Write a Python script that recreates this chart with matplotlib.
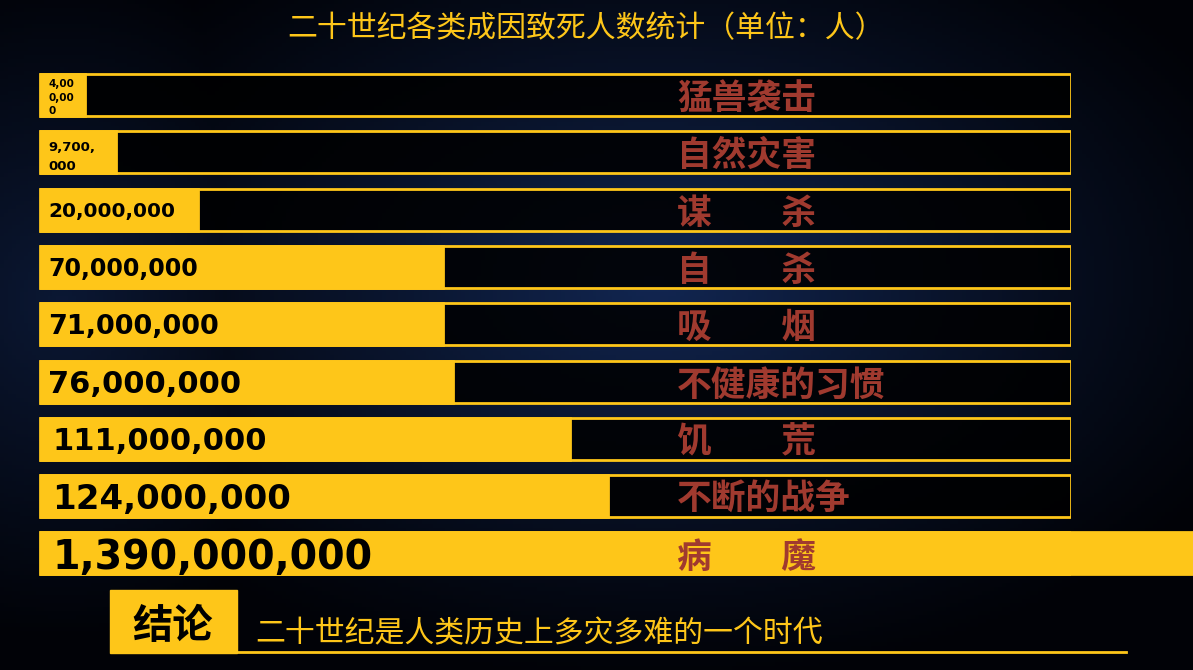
import matplotlib
matplotlib.use("Agg")
import matplotlib.pyplot as plt
import numpy as np
from matplotlib.patches import Rectangle
from matplotlib.lines import Line2D

plt.rcParams['font.family'] = ['Noto Sans CJK SC', 'DejaVu Sans']

causes = ['猛兽袭击', '自然灾害', '谋杀', '自杀', '吸烟', '不健康的习惯', '饥荒', '不断的战争', '病魔']
deaths = [4000000, 9700000, 20000000, 70000000, 71000000, 76000000, 111000000, 124000000, 1390000000]
# drawn bar length, percent of the outlined track (the picture is not to scale)
bar_len = [4.4, 7.4, 15.3, 39.1, 39.1, 40.1, 51.4, 55.1, 112]

title = '二十世纪各类成因致死人数统计（单位：人）'
conclusion_tag = '结论'
conclusion = '二十世纪是人类历史上多灾多难的一个时代'

yellow = '#fec619'
red = '#a03a2f'
W, H = 1193, 670

fig = plt.figure(figsize=(W / 100, H / 100), dpi=100)

# background
bg = fig.add_axes([0, 0, 1, 1])
bg.set_axis_off()
xx, yy = np.meshgrid(np.linspace(0, 1, 300), np.linspace(0, 1, 170))
d = np.sqrt(((xx - 0.55) / 0.55) ** 2 + ((yy - 0.42) / 0.6) ** 2)
k = np.clip(1 - d, 0, 1) ** 1.2
d2 = np.sqrt(((xx - 0.05) / 0.25) ** 2 + ((yy - 0.45) / 0.5) ** 2)
k = np.maximum(k, 0.6 * np.clip(1 - d2, 0, 1))
c0 = np.array([0.005, 0.01, 0.03])
c1 = np.array([0.07, 0.15, 0.32])
img = c0 + k[..., None] * (c1 - c0)
bg.imshow(img, extent=[0, 1, 0, 1], aspect='auto', origin='upper')
bg.set_xlim(0, 1)
bg.set_ylim(0, 1)

# bars
top, bot = 66.35, 582.15
ax = fig.add_axes([40 / W, 1 - bot / H, 1031 / W, (bot - top) / H])
ax.set_axis_off()
ax.patch.set_alpha(0)
y = np.arange(len(causes))
h = 0.733
ax.barh(y, 100, height=h, color='black', alpha=0.85, zorder=1)
ax.barh(y, 100, height=h, fill=False, edgecolor=yellow, linewidth=2, zorder=2)
ax.barh(y, bar_len, height=h, color=yellow, edgecolor=yellow, linewidth=2,
        zorder=3, clip_on=False)
ax.set_xlim(0, 100)
ax.set_ylim(len(causes) - 0.5, -0.5)

wraps = [4, 6, 0, 0, 0, 0, 0, 0, 0]
num_sizes = [7.5, 9.5, 14.5, 17, 19.5, 22, 22, 24.5, 28.5]
spacing = [1.45, 1.65, 1, 1, 1, 1, 1, 1, 1]
for i, v in enumerate(deaths):
    s = f'{v:,}'
    if wraps[i]:
        s = '\n'.join(s[j:j + wraps[i]] for j in range(0, len(s), wraps[i]))
    ax.text(0.8 if i < 6 else 1.2, i, s, ha='left', va='center_baseline', color='black',
            fontsize=num_sizes[i], fontweight='bold', family='DejaVu Sans',
            linespacing=spacing[i], zorder=4)

for i, c in enumerate(causes):
    lab = c[0] + '\u3000\u3000' + c[1] if len(c) == 2 else c
    ax.text(61.8, i, lab, ha='left', va='center_baseline', color=red, fontsize=25,
            fontweight='bold', zorder=4)

fig.text(586 / W, 1 - 25 / H, title, ha='center', va='center_baseline', color=yellow,
         fontsize=21.5)

fig.patches.append(Rectangle((110 / W, 1 - 653 / H), 127 / W, 63 / H,
                             transform=fig.transFigure, color=yellow, zorder=5))
fig.text(173 / W, 1 - 622 / H, conclusion_tag, ha='center', va='center_baseline',
         color='black', fontsize=29, fontweight='bold', zorder=6)
fig.text(255 / W, 1 - 630 / H, conclusion, ha='left', va='center_baseline', color=yellow,
         fontsize=21.5, zorder=6)
fig.lines.append(Line2D([237 / W, 1126 / W], [1 - 652 / H, 1 - 652 / H],
                        transform=fig.transFigure, color=yellow, linewidth=2, zorder=5))

fig.savefig('out.png', dpi=100)
